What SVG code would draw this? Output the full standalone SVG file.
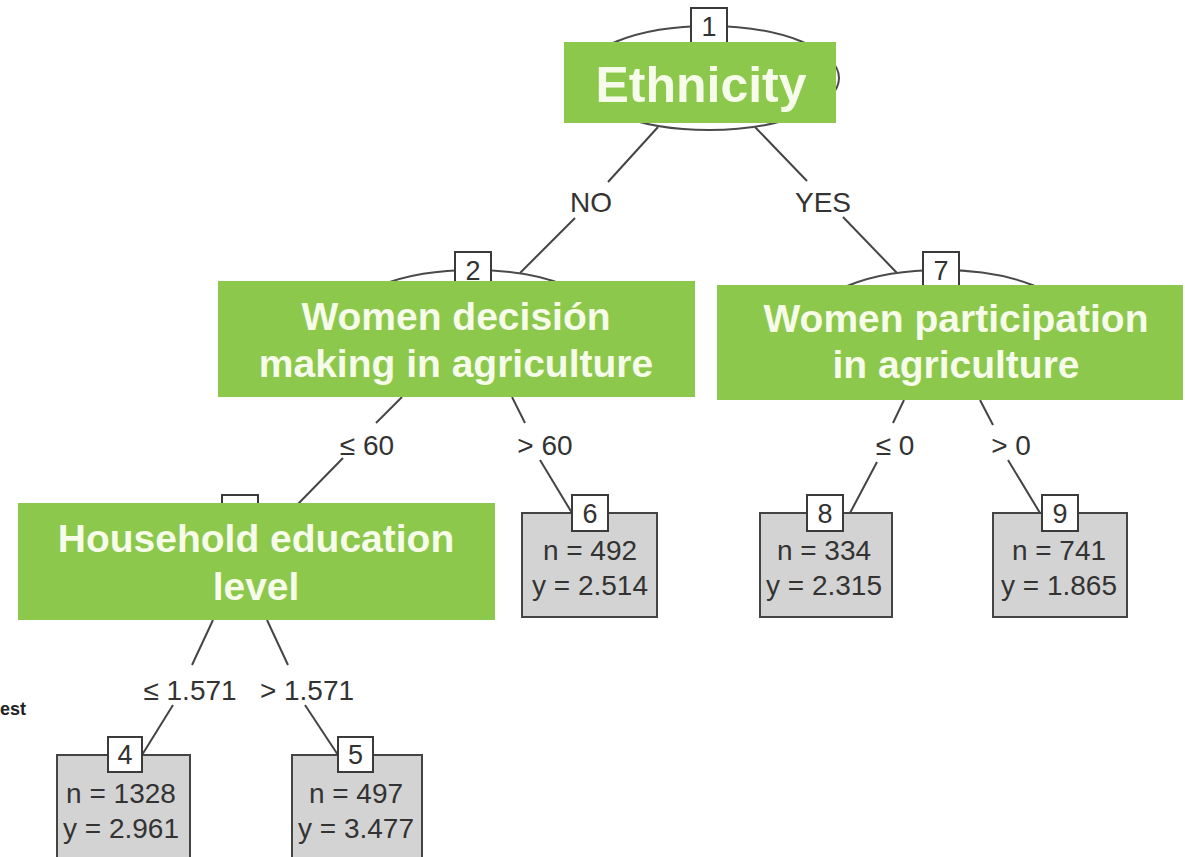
<svg xmlns="http://www.w3.org/2000/svg" width="1185" height="857" viewBox="0 0 1185 857">
<style>
.ell{fill:none;stroke:#4a4a4a;stroke-width:2}
.idb{fill:#ffffff;stroke:#3a3a3a;stroke-width:2}
.idt{font-family:"Liberation Sans",Arial,sans-serif;font-size:27px;fill:#333;text-anchor:middle}
.grn{fill:#8cc84b}
.gt{font-family:"Liberation Sans",Arial,sans-serif;font-weight:bold;fill:#f6fbea;text-anchor:middle}
.leaf{fill:#d3d3d3;stroke:#444;stroke-width:2}
.lt{font-family:"Liberation Sans",Arial,sans-serif;font-size:28px;fill:#333;text-anchor:middle}
.edge{stroke:#444;stroke-width:2;fill:none}
.el{font-family:"Liberation Sans",Arial,sans-serif;font-size:28px;fill:#333;text-anchor:middle}
</style>
<rect width="1185" height="857" fill="#ffffff"/>
<g id="connectors">
<line class="edge" x1="658" y1="127" x2="608" y2="182"/>
<line class="edge" x1="575" y1="218" x2="520" y2="273"/>
<text class="el" x="591" y="212">NO</text>
<line class="edge" x1="755" y1="127" x2="807" y2="181"/>
<line class="edge" x1="843" y1="217" x2="897" y2="273"/>
<text class="el" x="823" y="212">YES</text>
<line class="edge" x1="402" y1="397" x2="376" y2="423"/>
<line class="edge" x1="343" y1="458" x2="297" y2="505"/>
<text class="el" x="367" y="455">≤ 60</text>
<line class="edge" x1="512" y1="397" x2="525" y2="423"/>
<line class="edge" x1="540" y1="460" x2="572" y2="513"/>
<text class="el" x="545" y="455">&gt; 60</text>
<line class="edge" x1="904" y1="400" x2="893" y2="423"/>
<line class="edge" x1="877" y1="462" x2="850" y2="513"/>
<text class="el" x="895" y="455">≤ 0</text>
<line class="edge" x1="980" y1="400" x2="993" y2="425"/>
<line class="edge" x1="1008" y1="460" x2="1040" y2="513"/>
<text class="el" x="1011" y="455">&gt; 0</text>
<line class="edge" x1="213" y1="620" x2="192" y2="665"/>
<line class="edge" x1="173" y1="705" x2="142" y2="755"/>
<text class="el" x="190" y="700">≤ 1.571</text>
<line class="edge" x1="267" y1="620" x2="288" y2="665"/>
<line class="edge" x1="305" y1="705" x2="338" y2="755"/>
<text class="el" x="307" y="700">&gt; 1.571</text>
</g>
<g id="node1">
<ellipse class="ell" cx="709" cy="78" rx="130" ry="52"/>
<rect class="idb" x="691" y="8" width="36" height="36"/>
<text class="idt" x="709" y="36">1</text>
<rect class="grn" x="564" y="42" width="272" height="81"/>
<text class="gt" x="701" y="102" font-size="50">Ethnicity</text>
</g>
<g id="node2">
<ellipse class="ell" cx="473" cy="322" rx="130" ry="52"/>
<rect class="idb" x="455" y="252" width="36" height="36"/>
<text class="idt" x="473" y="280">2</text>
<rect class="grn" x="218" y="281" width="477" height="116"/>
<text class="gt" x="456" y="330" font-size="39">Women decisión</text>
<text class="gt" x="456" y="377" font-size="39">making in agriculture</text>
</g>
<g id="node7">
<ellipse class="ell" cx="941" cy="322" rx="130" ry="52"/>
<rect class="idb" x="923" y="252" width="36" height="36"/>
<text class="idt" x="941" y="280">7</text>
<rect class="grn" x="717" y="285" width="466" height="115"/>
<text class="gt" x="956" y="332" font-size="39">Women participation</text>
<text class="gt" x="956" y="378" font-size="39">in agriculture</text>
</g>
<g id="node3">
<ellipse class="ell" cx="240" cy="565" rx="130" ry="52"/>
<rect class="idb" x="222" y="495" width="36" height="36"/>
<rect class="grn" x="18" y="503" width="477" height="117"/>
<text class="gt" x="256" y="552" font-size="39">Household education</text>
<text class="gt" x="256" y="600" font-size="39">level</text>
</g>
<g id="node4">
<rect class="leaf" x="57" y="755" width="133" height="110"/>
<rect class="idb" x="108" y="737" width="34" height="35"/>
<text class="idt" x="125" y="764">4</text>
<text class="lt" x="121" y="803">n = 1328</text>
<text class="lt" x="121" y="838">y = 2.961</text>
</g>
<g id="node5">
<rect class="leaf" x="292" y="755" width="130" height="110"/>
<rect class="idb" x="338" y="737" width="35" height="35"/>
<text class="idt" x="355.5" y="764">5</text>
<text class="lt" x="356" y="803">n = 497</text>
<text class="lt" x="356" y="838">y = 3.477</text>
</g>
<g id="node6">
<rect class="leaf" x="522" y="513" width="135" height="104"/>
<rect class="idb" x="572" y="495" width="36" height="36"/>
<text class="idt" x="590" y="523">6</text>
<text class="lt" x="590" y="560">n = 492</text>
<text class="lt" x="590" y="595">y = 2.514</text>
</g>
<g id="node8">
<rect class="leaf" x="760" y="513" width="132" height="104"/>
<rect class="idb" x="807" y="495" width="36" height="36"/>
<text class="idt" x="825" y="523">8</text>
<text class="lt" x="824" y="560">n = 334</text>
<text class="lt" x="824" y="595">y = 2.315</text>
</g>
<g id="node9">
<rect class="leaf" x="993" y="513" width="134" height="104"/>
<rect class="idb" x="1042" y="495" width="36" height="36"/>
<text class="idt" x="1060" y="523">9</text>
<text class="lt" x="1059" y="560">n = 741</text>
<text class="lt" x="1059" y="595">y = 1.865</text>
</g>
<text x="0" y="715" font-family="Liberation Sans,Arial,sans-serif" font-size="18" font-weight="bold" fill="#222">est</text>
</svg>
